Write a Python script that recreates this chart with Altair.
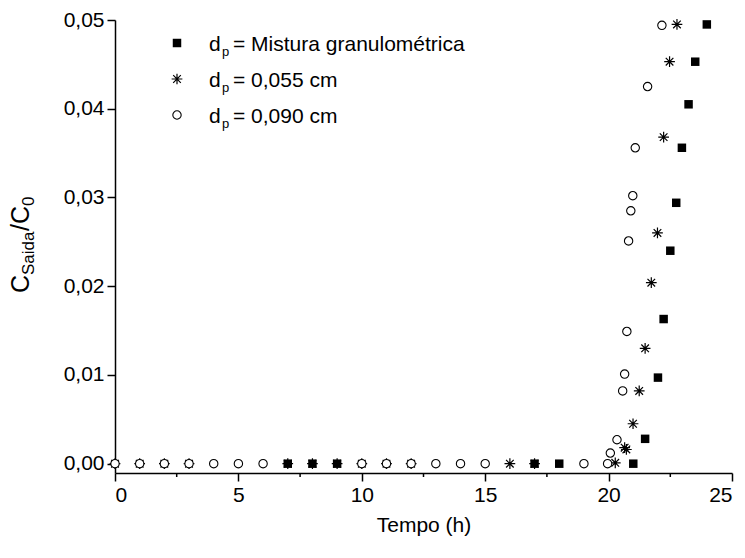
import altair as alt
import pandas as pd

# ---- data ----
mist_t = [7, 8, 9, 17, 18, 21.0, 21.48, 22.0, 22.23, 22.5, 22.74, 22.97, 23.24, 23.51, 23.98]
mist_c = [0, 0, 0, 0, 0, 0, 0.0028, 0.0097, 0.0163, 0.0240, 0.0294, 0.0356, 0.0405, 0.0453, 0.0495]

ast_t = [0, 1, 2, 3, 7, 8, 9, 10, 11, 12, 16, 17, 20.27, 20.65, 20.72, 20.99, 21.24,
         21.48, 21.73, 21.98, 22.23, 22.47, 22.77]
ast_c = [0, 0, 0, 0, 0, 0, 0, 0, 0, 0, 0, 0, 0.0001, 0.0018, 0.0016, 0.0045, 0.0082,
         0.0130, 0.0204, 0.0260, 0.0368, 0.0453, 0.0495]

circ_t = [0, 1, 2, 3, 4, 5, 6, 10, 11, 12, 13, 14, 15, 19, 19.96, 20.07, 20.34, 20.57,
          20.65, 20.74, 20.81, 20.90, 20.98, 21.08, 21.58, 22.16]
circ_c = [0, 0, 0, 0, 0, 0, 0, 0, 0, 0, 0, 0, 0, 0, 0, 0.0012, 0.0027, 0.0082,
          0.0101, 0.0149, 0.0251, 0.0285, 0.0302, 0.0356, 0.0425, 0.0494]

x_ticks = [0, 5, 10, 15, 20, 25]
x_minor = [2.5, 7.5, 12.5, 17.5, 22.5]
y_ticks = [0.0, 0.01, 0.02, 0.03, 0.04, 0.05]

legend_labels = ["= Mistura granulométrica", "= 0,055 cm", "= 0,090 cm"]

FONT = "Liberation Sans"
ASTER = "M-1,0L1,0M0,-1L0,1M-0.71,-0.71L0.71,0.71M-0.71,0.71L0.71,-0.71"

xscale = alt.Scale(domain=[0, 25], nice=False, zero=False)
yscale = alt.Scale(domain=[-0.00105, 0.05], nice=False, zero=False)

xax = alt.Axis(values=x_ticks, format="d", title="Tempo (h)", grid=False,
               tickSize=8, labelPadding=3, titlePadding=9)
yax = alt.Axis(values=y_ticks, title=None, grid=False, tickSize=8, labelPadding=3,
               labelExpr="replace(format(datum.value, '.2f'), '.', ',')")

df_m = pd.DataFrame({"t": mist_t, "c": mist_c})
df_a = pd.DataFrame({"t": ast_t, "c": ast_c})
df_c = pd.DataFrame({"t": circ_t, "c": circ_c})
df_minor = pd.DataFrame({"t": x_minor})
one = pd.DataFrame({"k": [0]})

X = alt.X("t:Q", scale=xscale, axis=xax)
Y = alt.Y("c:Q", scale=yscale, axis=yax)

aster = alt.Chart(df_a).mark_point(shape=ASTER, size=115, stroke="black",
                                   strokeWidth=1.2, filled=False, opacity=1).encode(x=X, y=Y)
squares = alt.Chart(df_m).mark_point(shape="square", size=72, fill="black",
                                     filled=True, opacity=1, strokeWidth=0).encode(x=X, y=Y)
circles = alt.Chart(df_c).mark_point(shape="circle", size=70, fill="white", filled=False,
                                     stroke="black", strokeWidth=1.1, opacity=1,
                                     fillOpacity=1).encode(x=X, y=Y)

minor = alt.Chart(df_minor).mark_rule(color="black", strokeWidth=1.5).encode(
    x=X, y=alt.value(453), y2=alt.value(457))

layers = [minor, aster, squares, circles]

# legend (manual, to allow the subscript p)
row_y = [23, 59, 95]
shapes = ["square", ASTER, "circle"]
for i, shp in enumerate(shapes):
    if shp == "square":
        kw = dict(shape=shp, size=72, opacity=1, filled=True, fill="black", strokeWidth=0)
    elif shp == "circle":
        kw = dict(shape=shp, size=70, opacity=1, filled=False, fill="white", fillOpacity=1,
                  stroke="black", strokeWidth=1.1)
    else:
        kw = dict(shape=shp, size=115, opacity=1, filled=False, stroke="black", strokeWidth=1.2)
    layers.append(alt.Chart(one).mark_point(**kw).encode(
        x=alt.value(62), y=alt.value(row_y[i])))
    base_y = row_y[i] + 8
    layers.append(alt.Chart(one).mark_text(text="d", font=FONT, fontSize=21, align="left",
                                           baseline="alphabetic", color="black").encode(
        x=alt.value(94), y=alt.value(base_y)))
    layers.append(alt.Chart(one).mark_text(text="p", font=FONT, fontSize=13, align="left",
                                           baseline="alphabetic", color="black").encode(
        x=alt.value(107), y=alt.value(base_y + 5)))
    layers.append(alt.Chart(one).mark_text(text=legend_labels[i], font=FONT, fontSize=21,
                                           align="left", baseline="alphabetic",
                                           color="black").encode(
        x=alt.value(118), y=alt.value(base_y)))

# y-axis title C_Saida / C_0 (rotated, with subscripts)
ytitle_parts = [("C", 25, -86, 273), ("Saida", 17, -81, 255), ("/C", 25, -86, 211), ("0", 17, -81, 186)]
for txt, fs, xx, yy in ytitle_parts:
    layers.append(alt.Chart(one).mark_text(text=txt, font=FONT, fontSize=fs, angle=270,
                                           align="left", baseline="alphabetic",
                                           color="black").encode(
        x=alt.value(xx), y=alt.value(yy)))

chart = alt.layer(*layers).properties(
    width=617, height=453,
    padding={"left": 115, "top": 20, "right": 13, "bottom": 85},
    autosize=alt.AutoSizeParams(type="none"),
).configure_view(stroke=None).configure_axis(
    domainColor="black", domainWidth=1.5, tickColor="black", tickWidth=1.5,
    labelFont=FONT, labelFontSize=21, labelColor="black",
    titleFont=FONT, titleFontSize=21, titleFontWeight="normal", titleColor="black",
)

chart.save("out.html", embed_options={"renderer": "svg", "actions": False})
